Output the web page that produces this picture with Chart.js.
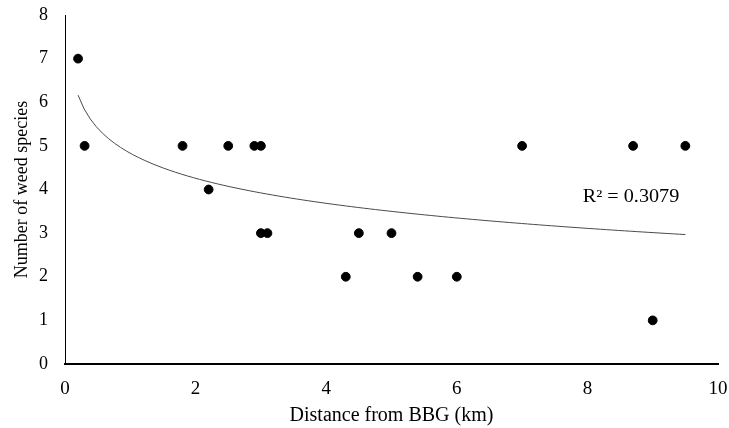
<!DOCTYPE html>
<html>
<head>
<meta charset="utf-8">
<script src="https://cdn.jsdelivr.net/npm/chart.js@4.4.0/dist/chart.umd.min.js"></script>
<style>
    html, body {margin: 0; padding: 0; background: #fff;}
    #wrap {width: 729px; height: 428px; position: relative;}
</style>
</head>
<body>
<div id="wrap"><canvas id="weedChart"></canvas></div>
<script>
// distance from BBG (km) and number of weed species per site
const distances = [0.2, 0.3, 1.8, 2.2, 2.5, 2.9, 3.0, 3.0, 3.1, 4.3, 4.5, 5.0, 5.4, 6.0, 7.0, 8.7, 9.0, 9.5];
const species = [7, 5, 5, 4, 5, 5, 5, 3, 3, 2, 3, 3, 2, 2, 5, 5, 1, 5];
const xTicks = [0, 2, 4, 6, 8, 10];
const yTicks = [0, 1, 2, 3, 4, 5, 6, 7, 8];
const r2Label = 'R² = 0.3079';

const fontFamily = '"Liberation Serif", "Times New Roman", serif';

// logarithmic trendline (least squares on ln x), like the spreadsheet does
const logFit = (xs, ys) => {
    const lx = xs.map(Math.log);
    const n = xs.length;
    const mx = lx.reduce((a, b) => a + b, 0) / n;
    const my = ys.reduce((a, b) => a + b, 0) / n;
    let sxy = 0, sxx = 0;
    lx.forEach((v, i) => {
        sxy += (v - mx) * (ys[i] - my);
        sxx += (v - mx) * (v - mx);
    });
    const a = sxy / sxx;
    return {a, b: my - a * mx};
};

const fit = logFit(distances, species);
const xMin = Math.min(...distances);
const xMax = Math.max(...distances);
const trendPoints = [];
for (let i = 0; i <= 100; i++) {
    const x = xMin + (xMax - xMin) * i / 100;
    trendPoints.push({x, y: fit.a * Math.log(x) + fit.b});
}

const r2Plugin = {
    id: 'r2Label',
    afterDatasetsDraw(chart) {
        const {ctx, scales: {x, y}} = chart;
        ctx.save();
        ctx.translate(x.getPixelForValue(7.93), y.getPixelForValue(3.82));
        ctx.scale(1.12, 1);
        ctx.font = '18px ' + fontFamily;
        ctx.fillStyle = '#000';
        ctx.textAlign = 'left';
        ctx.textBaseline = 'middle';
        ctx.fillText(r2Label, 0, 0);
        ctx.restore();
    }
};

new Chart(document.getElementById('weedChart'), {
    type: 'scatter',
    data: {
        datasets: [
            {
                data: distances.map((d, i) => ({x: d, y: species[i]})),
                backgroundColor: '#000',
                borderColor: '#000',
                pointRadius: 4.4,
                pointHoverRadius: 4.4
            },
            {
                type: 'line',
                data: trendPoints,
                borderColor: '#4a4a4a',
                borderWidth: 1,
                pointRadius: 0,
                fill: false,
                tension: 0
            }
        ]
    },
    options: {
        responsive: true,
        maintainAspectRatio: false,
        animation: false,
        plugins: {legend: {display: false}, tooltip: {enabled: false}},
        layout: {padding: {top: 15, right: 11, left: 7, bottom: 0}},
        scales: {
            x: {
                type: 'linear',
                min: 0,
                max: 10,
                afterBuildTicks: scale => { scale.ticks = xTicks.map(v => ({value: v})); },
                afterFit: scale => {
                    scale.height = 64;
                    scale.paddingLeft = 0;
                    scale.paddingRight = 0;
                },
                grid: {display: false},
                border: {display: true, color: '#000', width: 2},
                ticks: {color: '#000', font: {family: fontFamily, size: 19}, padding: 6},
                title: {display: true, text: 'Distance from BBG (km)', color: '#000',
                    font: {family: fontFamily, size: 20}, padding: {top: 8, bottom: 0}}
            },
            y: {
                min: 0,
                max: 8,
                afterBuildTicks: scale => { scale.ticks = yTicks.map(v => ({value: v})); },
                afterFit: scale => {
                    scale.width = 58;
                    scale.paddingTop = 0;
                    scale.paddingBottom = 0;
                },
                grid: {display: false},
                border: {display: true, color: '#000', width: 1},
                ticks: {color: '#000', font: {family: fontFamily, size: 18}, padding: 9},
                title: {display: true, text: 'Number of weed species', color: '#000',
                    font: {family: fontFamily, size: 18}, padding: {bottom: 0}}
            }
        }
    },
    plugins: [r2Plugin]
});
</script>
</body>
</html>
